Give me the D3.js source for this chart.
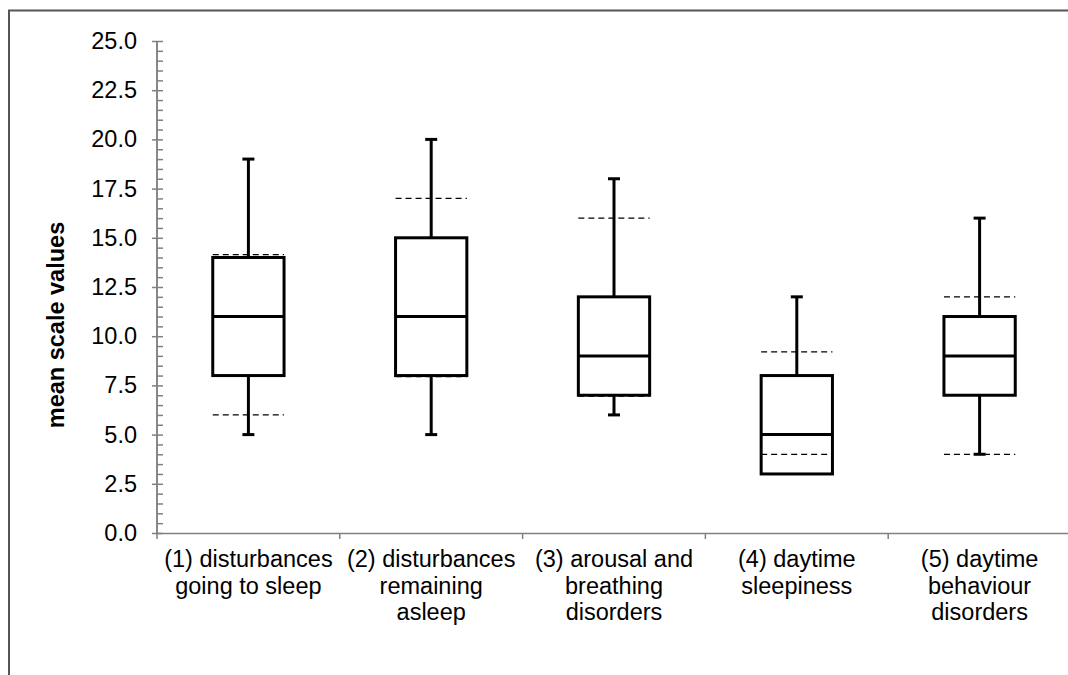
<!DOCTYPE html>
<html>
<head>
<meta charset="utf-8">
<script src="https://cdn.jsdelivr.net/npm/d3@7/dist/d3.min.js"></script>
<style>
  body { margin: 0; background: #fff; }
  svg { display: block; font-family: "Liberation Sans", Arial, sans-serif; }
</style>
</head>
<body>
<svg id="chart" width="1068" height="675"></svg>
<script>
// categories, each split into its printed lines
const categories = [
  ["(1) disturbances", "going to sleep"],
  ["(2) disturbances", "remaining", "asleep"],
  ["(3) arousal and", "breathing", "disorders"],
  ["(4) daytime", "sleepiness"],
  ["(5) daytime", "behaviour", "disorders"]
];
const whiskerHigh = [19, 20, 18, 12, 16];
const q3 = [14, 15, 12, 8, 11];
const median = [11, 11, 9, 5, 9];
const q1 = [8, 8, 7, 3, 7];
const whiskerLow = [5, 5, 6, 3, 4];
// dashed reference lines
const dashHigh = [14.15, 17, 16, 9.2, 12];
const dashLow = [6, 7.95, 6.95, 4, 4];
const yTicks = [0, 2.5, 5, 7.5, 10, 12.5, 15, 17.5, 20, 22.5, 25];

const svg = d3.select('#chart');
const width = 1068, height = 675;
const x0 = 157, y0 = 533, yTop = 41, band = 182.8;
const fs = 23.5;

// outer frame (runs off the right and bottom edges)
svg.append('rect')
    .attr('x', 9).attr('y', 10.5)
    .attr('width', width + 20).attr('height', height + 20)
    .attr('fill', 'none').attr('stroke', '#555').attr('stroke-width', 2);

const ids = categories.map((d, i) => i);
const x = d3.scaleBand().domain(ids).range([x0, x0 + band * ids.length]).padding(0);
const y = d3.scaleLinear().domain([0, 25]).range([y0, yTop]);

const axisColor = '#808080';
// minor ticks (inside)
const minor = svg.append('g')
    .attr('transform', `translate(${x0},0)`)
    .call(d3.axisRight(y).tickValues(d3.range(0, 25.001, 0.5)).tickSize(6).tickFormat(''));
// major ticks + labels
const major = svg.append('g')
    .attr('transform', `translate(${x0},0)`)
    .call(d3.axisLeft(y).tickValues(yTicks).tickSize(5).tickPadding(15).tickFormat(d3.format('.1f')));
[minor, major].forEach(g => {
    g.selectAll('path, line').attr('stroke', axisColor).attr('stroke-width', 1.5);
    g.select('.domain').attr('d', `M0,${y0}V${yTop}`);
});
major.selectAll('text')
    .attr('font-size', fs).attr('fill', '#000')
    .attr('font-family', '"Liberation Sans", Arial, sans-serif');

// x axis
const xAxis = svg.append('g')
    .attr('transform', `translate(0,${y0})`)
    .call(d3.axisBottom(x).tickSize(0).tickFormat(''));
xAxis.select('.domain').attr('stroke', axisColor).attr('stroke-width', 1.5);
xAxis.selectAll('.tick').remove();
xAxis.selectAll('line.sep')
    .data(ids.concat([ids.length]))
    .join('line')
    .attr('class', 'sep')
    .attr('x1', d => d < ids.length ? x(d) : x.range()[1])
    .attr('x2', d => d < ids.length ? x(d) : x.range()[1])
    .attr('y1', 0).attr('y2', 6)
    .attr('stroke', axisColor).attr('stroke-width', 1.5);

// category labels
const labels = svg.append('g')
    .attr('font-size', fs).attr('text-anchor', 'middle').attr('fill', '#000');
categories.forEach((lines, i) => {
    const t = labels.append('text')
        .attr('x', x(i) + x.bandwidth() / 2)
        .attr('y', 567);
    lines.forEach((ln, j) => {
        t.append('tspan')
            .attr('x', x(i) + x.bandwidth() / 2)
            .attr('dy', j === 0 ? 0 : 26.7)
            .text(ln);
    });
});

// y title
svg.append('text')
    .attr('transform', `translate(64,325) rotate(-90)`)
    .attr('text-anchor', 'middle')
    .attr('font-size', fs).attr('font-weight', 'bold')
    .text('mean scale values');

// boxes
const boxW = band * 0.39, capW = 12;
const cx = i => x(i) + x.bandwidth() / 2;
const g = svg.append('g').attr('stroke', '#000').attr('stroke-width', 3).attr('fill', 'none');
ids.forEach(i => {
    // whiskers
    g.append('line').attr('x1', cx(i)).attr('x2', cx(i))
        .attr('y1', y(q3[i])).attr('y2', y(whiskerHigh[i]));
    g.append('line').attr('x1', cx(i) - capW / 2).attr('x2', cx(i) + capW / 2)
        .attr('y1', y(whiskerHigh[i])).attr('y2', y(whiskerHigh[i]));
    if (whiskerLow[i] < q1[i]) {
        g.append('line').attr('x1', cx(i)).attr('x2', cx(i))
            .attr('y1', y(q1[i])).attr('y2', y(whiskerLow[i]));
        g.append('line').attr('x1', cx(i) - capW / 2).attr('x2', cx(i) + capW / 2)
            .attr('y1', y(whiskerLow[i])).attr('y2', y(whiskerLow[i]));
    }
    g.append('rect')
        .attr('x', cx(i) - boxW / 2).attr('y', y(q3[i]))
        .attr('width', boxW).attr('height', y(q1[i]) - y(q3[i]))
        .attr('fill', '#fff');
    g.append('line').attr('x1', cx(i) - boxW / 2).attr('x2', cx(i) + boxW / 2)
        .attr('y1', y(median[i])).attr('y2', y(median[i]));
});

// dashed lines
const dg = svg.append('g').attr('stroke', '#000').attr('stroke-width', 1.3)
    .attr('stroke-dasharray', '6,4');
ids.forEach(i => {
    [dashHigh[i], dashLow[i]].forEach(v => {
        dg.append('line')
            .attr('x1', cx(i) - boxW / 2).attr('x2', cx(i) + boxW / 2)
            .attr('y1', y(v)).attr('y2', y(v));
    });
});
</script>
</body>
</html>
